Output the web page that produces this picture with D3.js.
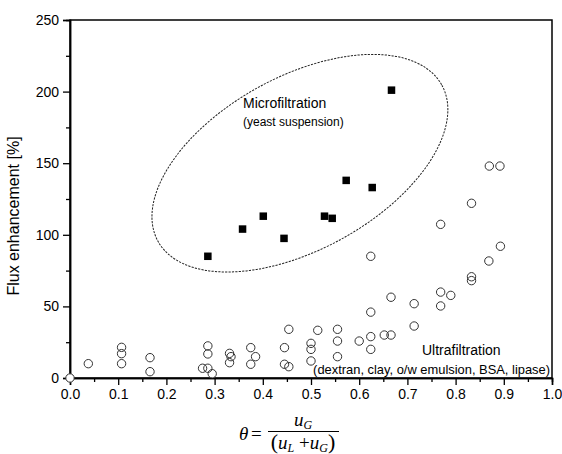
<!DOCTYPE html>
<html><head><meta charset="utf-8">
<script src="https://cdn.jsdelivr.net/npm/d3@7"></script>
<style>
html,body{margin:0;padding:0;background:#fff;}
svg{display:block;}
</style></head>
<body>
<script>
// ---- data ----
const xTicks = [0,0.1,0.2,0.3,0.4,0.5,0.6,0.7,0.8,0.9,1.0];
const yTicks = [0,50,100,150,200,250];
const mfTheta = [0.286,0.358,0.401,0.444,0.528,0.544,0.573,0.627,0.667];
const mfFlux  = [85,104,113,97.5,113,111.5,138,133,201];
const ufTheta = [0,0.038,0.107,0.107,0.107,0.166,0.166,0.286,0.286,0.275,0.286,0.295,
  0.331,0.334,0.331,0.375,0.385,0.375,0.445,0.445,0.454,0.454,0.5,0.5,0.5,0.514,
  0.555,0.555,0.555,0.600,0.624,0.624,0.624,0.624,0.652,0.666,0.666,0.714,0.714,
  0.769,0.769,0.769,0.790,0.833,0.833,0.833,0.869,0.870,0.892,0.893];
const ufFlux  = [0,10,21.4,17,10,14.2,4.4,22.4,16.8,6.8,6.8,3,
  17.2,14.9,10.7,21.2,14.9,9.6,21.2,9.6,7.9,34,24.2,20,11.9,33.3,
  34,25.8,14.9,25.8,46,28.9,20,85,30,30,56.4,51.9,36.3,
  107.3,60,50.3,57.7,122,70.7,68,81.7,148,148,92];
const mfLabel = ["Microfiltration","(yeast suspension)"];
const ufLabel = ["Ultrafiltration","(dextran, clay, o/w emulsion, BSA, lipase)"];
const yTitle = "Flux enhancement [%]";
const ellipseCenter = [0.477,150];

const W=562,H=454;
const svg=d3.select("body").append("svg").attr("width",W).attr("height",H)
  .style("font-family","'Liberation Sans', Arial, sans-serif");
const x=d3.scaleLinear().domain([0,1]).range([70,552]);
const y=d3.scaleLinear().domain([0,250]).range([378,20]);

// frame
svg.append("rect").attr("x",x(0)).attr("y",y(250)).attr("width",x(1)-x(0)).attr("height",y(0)-y(250))
  .attr("fill","none").attr("stroke","#000").attr("stroke-width",1.5);

// axes
const xMinor=d3.range(0.05,1,0.1);
const yMinor=d3.range(25,250,50);
svg.append("g").attr("transform",`translate(0,${y(0)})`)
  .call(d3.axisBottom(x).tickValues(xTicks).tickFormat(d3.format(".1f")).tickSize(7).tickPadding(4));
svg.append("g").attr("transform",`translate(${x(0)},0)`)
  .call(d3.axisLeft(y).tickValues(yTicks).tickSize(7).tickPadding(4));
svg.append("g").attr("transform",`translate(0,${y(0)})`)
  .call(d3.axisBottom(x).tickValues(xMinor).tickSize(4).tickFormat(""));
svg.append("g").attr("transform",`translate(${x(0)},0)`)
  .call(d3.axisLeft(y).tickValues(yMinor).tickSize(4).tickFormat(""));
svg.selectAll(".domain").attr("stroke","#000").attr("stroke-width",1.5);
svg.selectAll(".tick line").attr("stroke","#000").attr("stroke-width",1.3);
svg.selectAll(".tick text").attr("font-size",14).attr("fill","#000")
  .attr("font-family","'Liberation Sans', Arial, sans-serif");

// y title
svg.append("text").attr("transform",`translate(19,${(y(0)+y(250))/2+17}) rotate(-90)`)
  .attr("text-anchor","middle").attr("font-size",16).text(yTitle);

// x title (math)
const serif="'Liberation Serif','Times New Roman',serif";
const xt=svg.append("g").attr("font-family",serif).attr("fill","#000");
xt.append("text").attr("x",239).attr("y",440).attr("font-size",19).attr("font-style","italic").text("θ");
xt.append("text").attr("x",251).attr("y",440).attr("font-size",19).text("=");
xt.append("line").attr("x1",268).attr("x2",339).attr("y1",431.5).attr("y2",431.5).attr("stroke","#000").attr("stroke-width",1);
const num=xt.append("text").attr("x",303).attr("y",426).attr("text-anchor","middle").attr("font-size",19);
num.append("tspan").attr("font-style","italic").text("u");
num.append("tspan").attr("font-style","italic").attr("font-size",12).attr("dy",3).text("G");
const den=xt.append("text").attr("x",303).attr("y",449).attr("text-anchor","middle").attr("font-size",19);
den.append("tspan").attr("font-size",22).text("(");
den.append("tspan").attr("font-style","italic").text("u");
den.append("tspan").attr("font-style","italic").attr("font-size",12).attr("dy",3).text("L");
den.append("tspan").attr("dy",-3).text(" +");
den.append("tspan").attr("font-style","italic").text("u");
den.append("tspan").attr("font-style","italic").attr("font-size",12).attr("dy",3).text("G");
den.append("tspan").attr("font-size",22).attr("dy",-3).text(")");

// ellipse
svg.append("ellipse").attr("cx",0).attr("cy",0).attr("rx",162).attr("ry",86.5)
  .attr("transform",`translate(${x(ellipseCenter[0])},${y(ellipseCenter[1])}) rotate(-28.8)`)
  .attr("fill","none").attr("stroke","#222").attr("stroke-width",1).attr("stroke-dasharray","2.2,1.2");

// annotations
svg.append("text").attr("x",243).attr("y",108).attr("font-size",14).text(mfLabel[0]);
svg.append("text").attr("x",243).attr("y",126).attr("font-size",12).text(mfLabel[1]);
svg.append("text").attr("x",422).attr("y",355).attr("font-size",14).text(ufLabel[0]);
svg.append("text").attr("x",550).attr("y",373.5).attr("text-anchor","end").attr("font-size",12.9).text(ufLabel[1]);

// open circles (UF)
const uf=ufTheta.map((t,i)=>[t,ufFlux[i]]);
svg.append("g").selectAll("circle").data(uf).join("circle")
  .attr("cx",d=>x(d[0])).attr("cy",d=>y(d[1])).attr("r",4.2).attr("fill","#fff");
svg.append("g").selectAll("circle").data(uf).join("circle")
  .attr("cx",d=>x(d[0])).attr("cy",d=>y(d[1])).attr("r",4.2)
  .attr("fill","none").attr("stroke","#333").attr("stroke-width",1);

// filled squares (MF)
const mf=mfTheta.map((t,i)=>[t,mfFlux[i]]);
const s=7.5;
svg.append("g").selectAll("rect").data(mf).join("rect")
  .attr("x",d=>x(d[0])-s/2).attr("y",d=>y(d[1])-s/2).attr("width",s).attr("height",s).attr("fill","#000");
</script>
</body></html>
